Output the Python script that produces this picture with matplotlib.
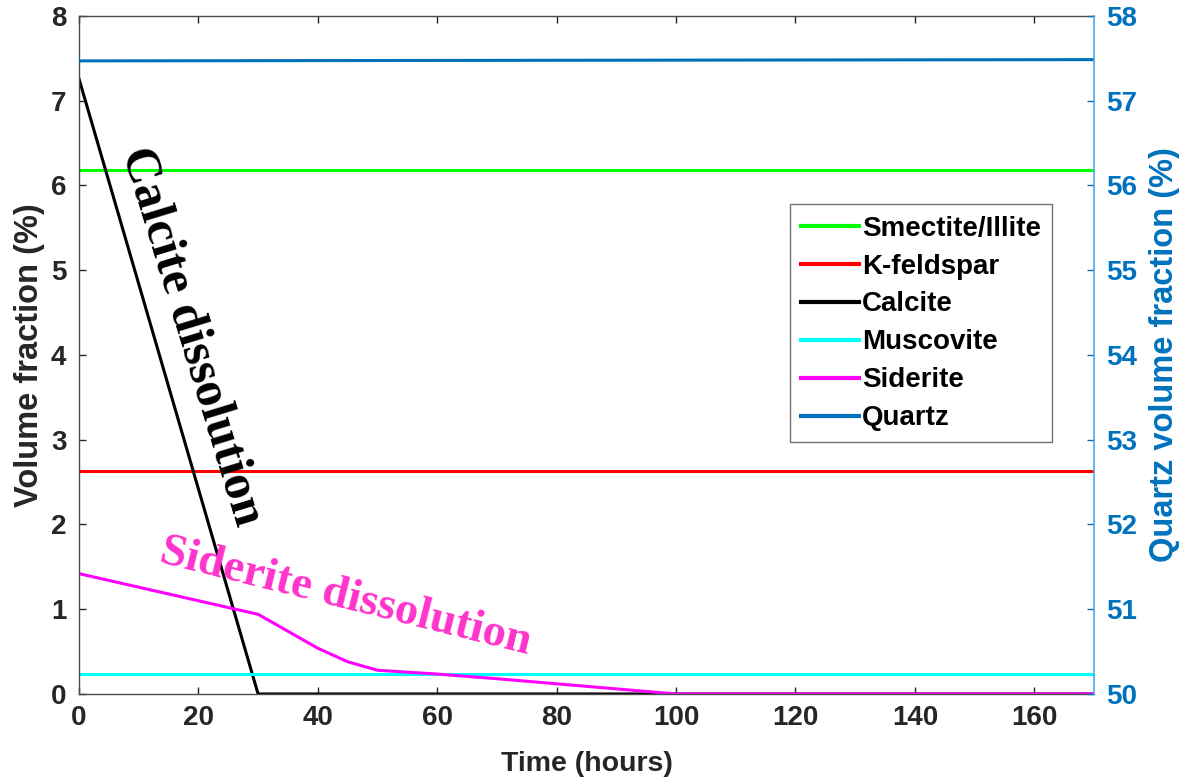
import matplotlib
matplotlib.use("Agg")
import matplotlib.pyplot as plt

# ---- data ----
t_const = [0, 170]
smectite = [6.18, 6.18]
kfeldspar = [2.63, 2.63]
muscovite = [0.23, 0.23]
quartz = [57.47, 57.485]

t_calcite = [0, 30, 170]
calcite = [7.26, 0.0, 0.0]

t_siderite = [0, 10, 20, 30, 35, 40, 45, 50, 60, 70, 80, 90, 100, 170]
siderite = [1.42, 1.26, 1.10, 0.94, 0.74, 0.54, 0.38, 0.28, 0.235, 0.18, 0.12, 0.06, 0.0, 0.0]

labels = ["Smectite/Illite", "K-feldspar", "Calcite", "Muscovite", "Siderite", "Quartz"]
xticks = [0, 20, 40, 60, 80, 100, 120, 140, 160]
yticks_left = [0, 1, 2, 3, 4, 5, 6, 7, 8]
yticks_right = [50, 51, 52, 53, 54, 55, 56, 57, 58]

plt.rcParams['font.family'] = ['Liberation Sans', 'DejaVu Sans']
plt.rcParams['font.weight'] = 'bold'

axcol = '#262626'
blue = '#0072BD'

fig = plt.figure(figsize=(11.84, 7.83), dpi=100)
ax = fig.add_axes([0.0667, 0.1137, 0.8573, 0.8659])
ax2 = ax.twinx()

lw = 2.2
h1, = ax.plot(t_const, smectite, color='#00ff00', lw=lw)
h2, = ax.plot(t_const, kfeldspar, color='#ff0000', lw=lw)
h3, = ax.plot(t_calcite, calcite, color='black', lw=lw)
h4, = ax.plot(t_const, muscovite, color='#00ffff', lw=lw)
h5, = ax.plot(t_siderite, siderite, color='#ff00ff', lw=lw)
h6, = ax2.plot(t_const, quartz, color=blue, lw=lw)

ax.set_xlim(0, 170)
ax.set_ylim(0, 8)
ax2.set_ylim(50, 58)
ax.set_xticks(xticks)
ax.set_yticks(yticks_left)
ax2.set_yticks(yticks_right)

fs = 20
ax.tick_params(axis='x', direction='in', length=5, width=1, colors=axcol, labelsize=fs, top=True, pad=8)
ax.tick_params(axis='y', direction='in', length=5, width=1, colors=axcol, labelsize=fs, right=False, pad=9)
ax2.tick_params(axis='y', direction='in', length=5, width=1, colors=blue, labelsize=fs, pad=9)
for lab in ax.get_xticklabels() + ax.get_yticklabels():
    lab.set_color('#262626'); lab.set_fontweight('bold')
for lab in ax2.get_yticklabels():
    lab.set_color(blue); lab.set_fontweight('bold')

for s in ['left', 'top', 'bottom']:
    ax.spines[s].set_color('#4d4d4d')
    ax.spines[s].set_linewidth(1)
ax2.spines['right'].set_color('#5aa5dc')
ax2.spines['right'].set_linewidth(1.2)
for s in ['left', 'top', 'bottom']:
    ax2.spines[s].set_visible(False)
ax.spines['right'].set_visible(False)

ax.set_xlabel("Time (hours)", fontsize=20.5, fontweight='bold', color='#262626', labelpad=14)
ax.set_ylabel("Volume fraction (%)", fontsize=23.5, fontweight='bold', color='#262626', labelpad=4)
ax2.set_ylabel("Quartz volume fraction (%)", fontsize=23.5, fontweight='bold', color=blue, labelpad=8)

ax.text(18.9, 4.22, "Calcite dissolution", rotation=-73, rotation_mode='anchor',
        ha='center', va='center', fontsize=36, fontweight='bold',
        family=['Liberation Serif', 'DejaVu Serif'], color='black', zorder=5)
ax.text(44.6, 1.14, "Siderite dissolution", rotation=-14, rotation_mode='anchor',
        ha='center', va='center', fontsize=33.5, fontweight='bold',
        family=['Liberation Serif', 'DejaVu Serif'], color='#ff33cc', zorder=5)

leg = ax2.legend([h1, h2, h3, h4, h5, h6], labels, loc='upper left',
                 bbox_to_anchor=(0.70, 0.722), fontsize=20, frameon=True, fancybox=False,
                 edgecolor='#4d4d4d', handlelength=2.1, handletextpad=0.1, labelspacing=0.43,
                 borderpad=0.4, borderaxespad=0)
leg.get_frame().set_linewidth(1)
for t in leg.get_texts():
    t.set_fontweight('bold')
for lh in leg.get_lines():
    lh.set_linewidth(3)

fig.savefig("out.png", dpi=100)
